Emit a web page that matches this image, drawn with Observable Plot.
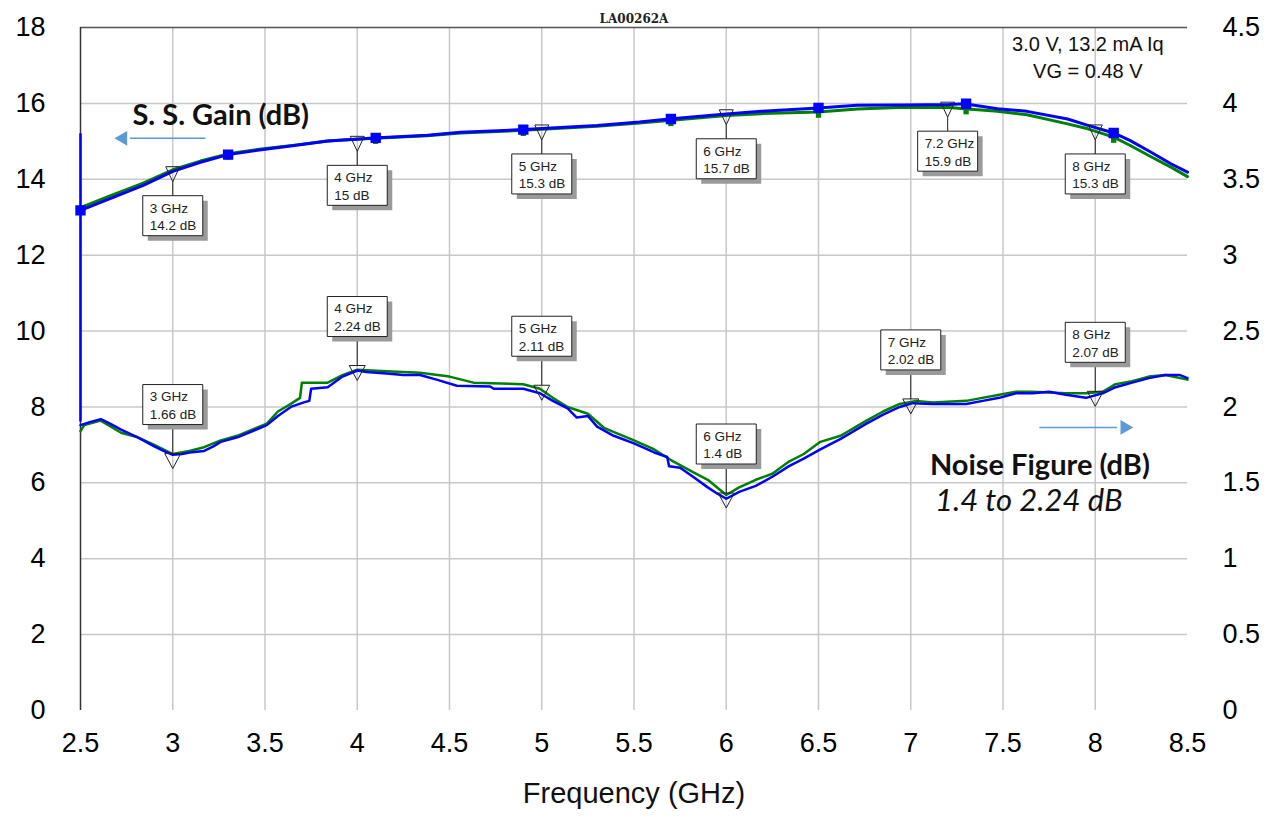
<!DOCTYPE html>
<html><head><meta charset="utf-8">
<script src="https://cdn.jsdelivr.net/npm/d3@7"></script>
<script src="https://cdn.jsdelivr.net/npm/@observablehq/plot@0.6"></script>
<style>body{margin:0;background:#fff} #chart{width:1280px;height:822px}</style>
</head><body><div id="chart"></div>
<script>
// ---------- DATA ----------
// Small-signal gain (dB), left axis
const gainFreqBlue = [2.50,2.66,2.84,3.00,3.15,3.30,3.48,3.66,3.84,4.09,4.38,4.56,4.90,5.30,5.53,5.69,6.00,6.19,6.50,6.71,6.97,7.21,7.29,7.47,7.63,7.85,7.96,8.10,8.19,8.30,8.41,8.50];
const gainBlue     = [13.18,13.49,13.84,14.21,14.45,14.65,14.78,14.89,15.01,15.09,15.16,15.24,15.31,15.42,15.51,15.59,15.72,15.79,15.88,15.95,15.96,15.97,15.99,15.86,15.79,15.59,15.42,15.22,15.02,14.72,14.41,14.19];
const gainFreqGreen = [2.50,2.66,2.84,3.00,3.15,3.30,3.48,3.66,3.84,4.09,4.38,4.56,4.90,5.30,5.53,5.69,6.00,6.19,6.50,6.71,6.97,7.21,7.29,7.47,7.63,7.85,7.96,8.10,8.19,8.30,8.41,8.50];
const gainGreen     = [13.25,13.56,13.90,14.25,14.48,14.67,14.80,14.90,15.01,15.08,15.15,15.22,15.29,15.40,15.48,15.55,15.68,15.73,15.77,15.85,15.90,15.89,15.86,15.79,15.70,15.46,15.33,15.11,14.89,14.60,14.32,14.07];
// square symbols on the gain traces
const symFreq      = [2.5,3.3,4.1,4.9,5.7,6.5,7.3,8.1];
const symGainBlue  = [13.18,14.65,15.09,15.31,15.59,15.88,15.99,15.22];
const symGainGreen = [13.25,14.67,15.08,15.29,15.55,15.77,15.86,15.11];

// Noise figure (dB), right axis
const nfFreqBlue = [2.50,2.55,2.61,2.66,2.72,2.81,2.90,2.95,3.00,3.05,3.09,3.17,3.22,3.26,3.35,3.44,3.51,3.57,3.64,3.71,3.74,3.75,3.84,3.92,4.00,4.05,4.16,4.25,4.34,4.43,4.54,4.72,4.74,4.90,4.99,5.06,5.14,5.19,5.25,5.30,5.39,5.50,5.61,5.68,5.69,5.75,5.82,5.90,5.95,6.00,6.07,6.16,6.25,6.34,6.42,6.51,6.62,6.76,6.85,6.94,7.01,7.12,7.21,7.30,7.39,7.48,7.57,7.66,7.75,7.84,7.95,8.04,8.11,8.20,8.29,8.38,8.46,8.50];
const nfBlue     = [1.88,1.90,1.92,1.89,1.85,1.80,1.74,1.71,1.685,1.69,1.70,1.71,1.74,1.77,1.80,1.845,1.88,1.94,2.00,2.03,2.04,2.12,2.13,2.20,2.24,2.23,2.22,2.21,2.21,2.18,2.14,2.135,2.12,2.12,2.09,2.04,1.99,1.93,1.94,1.87,1.81,1.76,1.70,1.67,1.61,1.60,1.54,1.47,1.43,1.395,1.44,1.48,1.54,1.61,1.66,1.72,1.79,1.89,1.95,2.00,2.025,2.02,2.02,2.02,2.04,2.06,2.09,2.09,2.10,2.08,2.06,2.09,2.13,2.16,2.19,2.21,2.21,2.19];
const nfFreqGreen = [2.50,2.52,2.61,2.72,2.81,2.90,3.00,3.09,3.17,3.26,3.35,3.44,3.51,3.57,3.64,3.69,3.70,3.84,3.92,4.00,4.16,4.34,4.50,4.63,4.90,4.99,5.06,5.14,5.25,5.34,5.50,5.61,5.70,5.82,5.90,6.00,6.07,6.16,6.25,6.34,6.42,6.51,6.62,6.76,6.85,6.94,7.03,7.12,7.30,7.48,7.57,7.66,7.84,7.95,8.04,8.11,8.20,8.29,8.38,8.50];
const nfGreen     = [1.84,1.88,1.91,1.83,1.80,1.75,1.69,1.71,1.735,1.78,1.81,1.856,1.89,1.97,2.02,2.06,2.16,2.16,2.21,2.245,2.235,2.225,2.20,2.16,2.15,2.12,2.06,2.00,1.955,1.86,1.78,1.72,1.65,1.57,1.52,1.42,1.47,1.52,1.56,1.64,1.69,1.77,1.81,1.91,1.97,2.02,2.04,2.03,2.04,2.08,2.10,2.10,2.09,2.09,2.10,2.15,2.17,2.20,2.21,2.18];

// start-of-sweep vertical trace at 2.5 GHz (gain dB at top, NF dB at bottom)
const sweepStart = {freq: 2.5, gainTop: 15.2, nfBottom: 1.9};

// marker readouts
const gainMkFreq  = [3, 4, 5, 6, 7.2, 8];
const gainMkValue = [14.2, 15, 15.3, 15.7, 15.9, 15.3];
const gainMkLabel = ["3 GHz", "4 GHz", "5 GHz", "6 GHz", "7.2 GHz", "8 GHz"];
const nfMkFreq  = [3, 4, 5, 6, 7, 8];
const nfMkValue = [1.66, 2.24, 2.11, 1.4, 2.02, 2.07];
const nfMkLabel = ["3 GHz", "4 GHz", "5 GHz", "6 GHz", "7 GHz", "8 GHz"];

const leftTicks = [0,2,4,6,8,10,12,14,16,18];
const xTicks = [2.5,3,3.5,4,4.5,5,5.5,6,6.5,7,7.5,8,8.5];
const NF_SCALE = 4; // 4.5 dB NF == 18 dB gain

// ---------- TABLES ----------
const zip = (fs, vs, k = 1) => fs.map((f, i) => ({f, v: vs[i] * k}));
const gB = zip(gainFreqBlue, gainBlue), gG = zip(gainFreqGreen, gainGreen);
const nB = zip(nfFreqBlue, nfBlue, NF_SCALE), nG = zip(nfFreqGreen, nfGreen, NF_SCALE);
const sqB = zip(symFreq, symGainBlue), sqG = zip(symFreq, symGainGreen);
const gMk = gainMkFreq.map((f, i) => ({f, v: gainMkValue[i], t: `${gainMkLabel[i]}\n${gainMkValue[i]} dB`}));
const nMk = nfMkFreq.map((f, i) => ({f, v: nfMkValue[i] * NF_SCALE, t: `${nfMkLabel[i]}\n${nfMkValue[i]} dB`}));

// ---------- SYMBOLS ----------
const gainMarkSym = {draw(c){ c.moveTo(-7,-5); c.lineTo(7,-5); c.lineTo(0,10); c.closePath(); c.moveTo(0,10); c.lineTo(0,24); }};
const nfMarkSym   = {draw(c){ c.moveTo(-8,-5); c.lineTo(8,-5); c.lineTo(0,10); c.closePath(); c.moveTo(0,-5); c.lineTo(0,-34); }};
const boxSym = {draw(c){ c.rect(-30,-20,60,40); }};

const narrow = "'Liberation Sans Narrow','Arial Narrow','Liberation Sans',Arial,sans-serif";
const calib = "Lato,'Open Sans',sans-serif";
const arrowCol = "#5b9bd5";

const chart = Plot.plot({
  width: 1280, height: 822,
  marginLeft: 80, marginRight: 93, marginTop: 27, marginBottom: 112,
  style: {fontFamily: "'Liberation Sans',Arial,sans-serif", background: "#fff", color: "#000"},
  x: {domain: [2.5, 8.5]},
  y: {domain: [0, 18]},
  marks: [
    Plot.gridY([2,4,6,8,10,12,14,16], {stroke: "#c8c8c8", strokeOpacity: 1, strokeWidth: 1.5}),
    Plot.gridX([3,3.5,4,4.5,5,5.5,6,6.5,7,7.5,8], {stroke: "#c8c8c8", strokeOpacity: 1, strokeWidth: 1.5}),
    Plot.ruleY([18], {stroke: "#555", strokeWidth: 1.5}),
    Plot.ruleX([2.5], {stroke: "#333", strokeWidth: 1.5}),
    Plot.axisY({ticks: leftTicks, tickSize: 0, tickPadding: 35, fontSize: 27, label: null, anchor: "left"}),
    Plot.axisY({ticks: leftTicks, tickSize: 0, tickPadding: 35, fontSize: 27, label: null, anchor: "right", tickFormat: d => String(d / NF_SCALE)}),
    Plot.axisX({ticks: xTicks, tickSize: 0, tickPadding: 22, fontSize: 27, label: null, tickFormat: d => String(d)}),
    Plot.text(["Frequency (GHz)"], {frameAnchor: "bottom", dy: 92, fontSize: 29, fill: "#111"}),
    // start-of-sweep trace
    Plot.ruleX([sweepStart], {x: "freq", y1: d => d.nfBottom * NF_SCALE, y2: "gainTop", stroke: "#0000ff", strokeWidth: 2.5}),
    // traces
    Plot.line(gG, {x: "f", y: "v", stroke: "#008000", strokeWidth: 3}),
    Plot.dot(sqG, {x: "f", y: "v", symbol: "square", r: 3, fill: "#008000", dy: 3}),
    Plot.line(gB, {x: "f", y: "v", stroke: "#0000ff", strokeWidth: 3}),
    Plot.dot(sqB, {x: "f", y: "v", symbol: "square", r: 5, fill: "#0000ff", stroke: "#0000ff"}),
    Plot.line(nG, {x: "f", y: "v", stroke: "#008000", strokeWidth: 2.5}),
    Plot.line(nB, {x: "f", y: "v", stroke: "#0000ff", strokeWidth: 2.5}),
    // markers
    Plot.dot(gMk, {x: "f", y: "v", symbol: gainMarkSym, fill: "none", stroke: "#222", strokeWidth: 1}),
    Plot.dot(nMk, {x: "f", y: "v", symbol: nfMarkSym, fill: "none", stroke: "#222", strokeWidth: 1}),
    // label boxes (shadow, box, text)
    Plot.dot(gMk, {x: "f", y: "v", symbol: boxSym, fill: "#9a9a9a", stroke: "none", dx: 5, dy: 49}),
    Plot.dot(gMk, {x: "f", y: "v", symbol: boxSym, fill: "#fff", stroke: "#222", strokeWidth: 1, dy: 44}),
    Plot.text(gMk, {x: "f", y: "v", text: "t", dy: 44, dx: -23, textAnchor: "start", fontSize: 13.5, lineHeight: 1.3, fill: "#222", fontFamily: narrow}),
    Plot.dot(nMk, {x: "f", y: "v", symbol: boxSym, fill: "#9a9a9a", stroke: "none", dx: 5, dy: -49}),
    Plot.dot(nMk, {x: "f", y: "v", symbol: boxSym, fill: "#fff", stroke: "#222", strokeWidth: 1, dy: -54}),
    Plot.text(nMk, {x: "f", y: "v", text: "t", dy: -54, dx: -23, textAnchor: "start", fontSize: 13.5, lineHeight: 1.3, fill: "#222", fontFamily: narrow}),
    // annotations
    Plot.text(["LA00262A"], {frameAnchor: "top", dy: -13, fontSize: 12, fontWeight: "bold", fontFamily: "'DejaVu Serif','Liberation Serif',serif", fill: "#222"}),
    Plot.text(["3.0 V, 13.2 mA Iq", "VG = 0.48 V"], {x: 7.96, y: (d, i) => [17.55, 16.85][i], fontSize: 20, fill: "#111"}),
    Plot.text(["S. S. Gain (dB)"], {x: 3.26, y: 15.68, fontSize: 29, fontWeight: "bold", fontFamily: calib, fill: "#111"}),
    Plot.text(["Noise Figure (dB)"], {x: 7.70, y: 6.46, fontSize: 29, fontWeight: "bold", fontFamily: calib, fill: "#111"}),
    Plot.text(["1.4 to 2.24 dB"], {x: 7.64, y: 5.53, fontSize: 31, fontStyle: "italic", fontFamily: calib, fill: "#111"}),
    // arrows
    Plot.ruleY([15.08], {x1: 2.77, x2: 3.18, stroke: arrowCol, strokeWidth: 1.5}),
    Plot.dot([{f: 2.73, v: 15.08}], {x: "f", y: "v", symbol: "triangle", rotate: -90, r: 5.5, fill: arrowCol}),
    Plot.ruleY([7.46], {x1: 7.70, x2: 8.12, stroke: arrowCol, strokeWidth: 1.5}),
    Plot.dot([{f: 8.16, v: 7.46}], {x: "f", y: "v", symbol: "triangle", rotate: 90, r: 5.5, fill: arrowCol})
  ]
});
document.getElementById("chart").appendChild(chart);
</script></body></html>
